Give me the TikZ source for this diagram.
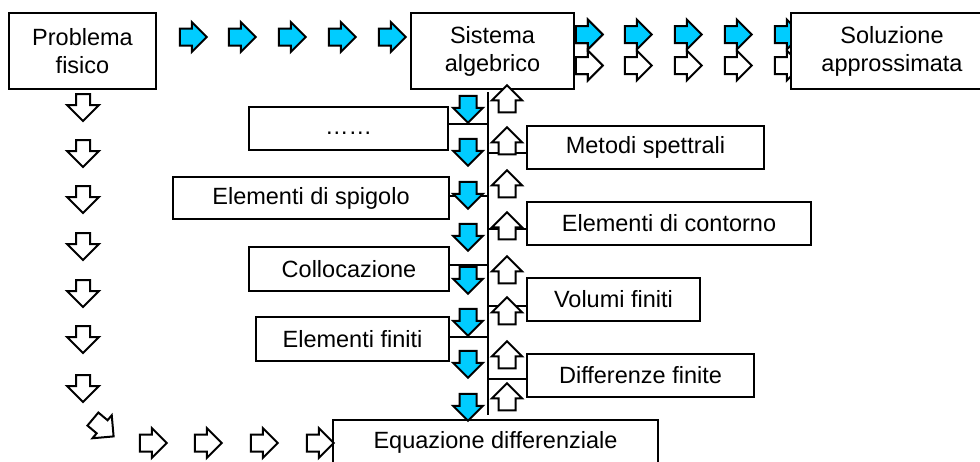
\documentclass[tikz,border=0pt]{standalone}
\usepackage{fontspec}
\setmainfont{Liberation Sans}
\usetikzlibrary{shapes.arrows}
\definecolor{arrowcyan}{RGB}{0,204,255}
\tikzset{
  box/.style={draw, line width=2.3pt, fill=white, inner sep=0pt, align=center,
    font=\fontsize{23.5}{28}\selectfont},
  barrow/.style={single arrow, draw, line width=2pt, inner xsep=0pt, inner ysep=7.5pt,
    minimum height=27pt, single arrow head extend=6.5pt},
  blue/.style={barrow, fill=arrowcyan},
  white/.style={barrow, fill=white},
  conn/.style={line width=2.2pt}
}
\begin{document}
\begin{tikzpicture}[x=1pt,y=-1pt]
\useasboundingbox (0,0) rectangle (980,461);
\clip (0,0) rectangle (980,461);
% top row blue (left)
\foreach \s [count=\i] in {175,224,274,324,374}
  \node[blue] (tl\i) at (\s+14,37) {};
% right blue row
\foreach \s [count=\i] in {571,620,670,720,770}
  \node[blue] (tr\i) at (\s+14,34.5) {};
% right white row
\foreach \s [count=\i] in {571,620,670,720,770}
  \node[white] (wr\i) at (\s+14,65.5) {};

% boxes
\node[box, minimum width=147pt, minimum height=76pt] (prob) at (82.5,51) {Problema\\fisico};
\node[box, minimum width=163pt, minimum height=76pt] (sis) at (492.5,51) {Sistema\\algebrico};
\node[box, minimum width=202pt, minimum height=76pt] (sol) at (892,51) {Soluzione\\approssimata};
% first arrows of right rows lie over the Sistema box edge
\node[blue] (tr1b) at (tr1) {};
\node[white] (wr1b) at (wr1) {};
\node[box, minimum width=199pt, minimum height=43pt] (dots) at (348.5,128.5) {\strut……};
\node[box, minimum width=237pt, minimum height=43pt] (met) at (645.5,147.5) {Metodi spettrali};
\node[box, minimum width=276pt, minimum height=42pt] (spig) at (311,198) {Elementi di spigolo};
\node[box, minimum width=284pt, minimum height=43pt] (cont) at (669,223.5) {Elementi di contorno};
\node[box, minimum width=200pt, minimum height=44pt] (coll) at (349,269) {Collocazione};
\node[box, minimum width=173pt, minimum height=43pt] (vol) at (613.5,299.5) {Volumi finiti};
\node[box, minimum width=193pt, minimum height=44pt] (fin) at (352.5,339) {Elementi finiti};
\node[box, minimum width=227pt, minimum height=43pt] (diff) at (640.5,375.5) {Differenze finite};
\node[box, minimum width=325pt, minimum height=44pt] (eq) at (495.5,442) {Equazione differenziale};

% vertical line and connectors
\coordinate (vtop) at (488,92);
\coordinate (vbot) at (488,415);
\draw[conn] (vtop) -- (vbot);
\draw[conn] ([yshift=4.5pt]dots.east) -- ([yshift=4.5pt]dots.east -| vtop);
\draw[conn] ([yshift=2pt]spig.east) -- ([yshift=2pt]spig.east -| vtop);
\draw[conn] ([yshift=4pt]coll.east) -- ([yshift=4pt]coll.east -| vtop);
\draw[conn] ([yshift=2pt]fin.east) -- ([yshift=2pt]fin.east -| vtop);
\draw[conn] ([yshift=-5.5pt]met.west -| vtop) -- ([yshift=-5.5pt]met.west);
\draw[conn] ([yshift=-5.5pt]cont.west -| vtop) -- ([yshift=-5.5pt]cont.west);
\draw[conn] ([yshift=-6.5pt]vol.west -| vtop) -- ([yshift=-6.5pt]vol.west);
\draw[conn] ([yshift=-3.5pt]diff.west -| vtop) -- ([yshift=-3.5pt]diff.west);

% blue down column
\foreach \t [count=\i] in {92,135,178,220,263,305,347,390}
  \node[blue, rotate=-90] (bd\i) at (468,\t+13) {};
% white up column
\foreach \t [count=\i] in {90,132,175,217,261,302,346,388}
  \node[white, rotate=90] (wu\i) at (507,\t+13) {};
% left column white down
\foreach \t [count=\i] in {91,137,183,230,277,323,372}
  \node[white, rotate=-90, inner ysep=6pt, single arrow head extend=9pt] (ld\i) at (83,\t+13) {};
% diagonal
\node[white, rotate=-40] (diag) at (100,425) {};
% bottom row
\foreach \s [count=\i] in {135,190,246,302}
  \node[white] (br\i) at (\s+14,443) {};
\end{tikzpicture}
\end{document}
